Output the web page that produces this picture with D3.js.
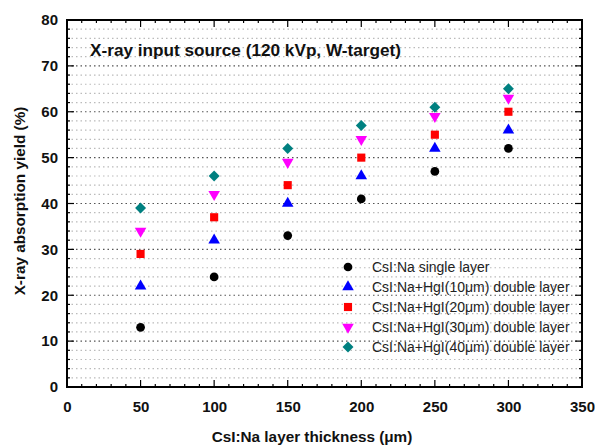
<!DOCTYPE html>
<head>
  <style>
    body { margin: 0; background: #fff; }
    text { font-family: "Liberation Sans", Arial, sans-serif; }
  </style>
  <title>X-ray absorption yield</title>
</head>
<body>
  <script src="https://cdn.jsdelivr.net/npm/d3@7"></script>
  <script>
    // data
    var thickness = [50, 100, 150, 200, 250, 300];
    var single = [13, 24, 33, 41, 47, 52];
    var hgi10 = [22, 32, 40, 46, 52, 56];
    var hgi20 = [29, 37, 44, 50, 55, 60];
    var hgi30 = [34, 42, 49, 54, 59, 63];
    var hgi40 = [39, 46, 52, 57, 61, 65];
    var seriesNames = ["CsI:Na single layer", "CsI:Na+HgI(10\u03bcm) double layer",
      "CsI:Na+HgI(20\u03bcm) double layer", "CsI:Na+HgI(30\u03bcm) double layer",
      "CsI:Na+HgI(40\u03bcm) double layer"];
    var xTicks = [0, 50, 100, 150, 200, 250, 300, 350];
    var yTicks = [0, 10, 20, 30, 40, 50, 60, 70, 80];

    var series = [
      {name: seriesNames[0], values: single, color: "#000000", shape: d3.symbolCircle, size: 60, rot: 0},
      {name: seriesNames[1], values: hgi10, color: "#0000ff", shape: d3.symbolTriangle, size: 58, rot: 0},
      {name: seriesNames[2], values: hgi20, color: "#ff0000", shape: d3.symbolSquare, size: 66, rot: 0},
      {name: seriesNames[3], values: hgi30, color: "#ff00ff", shape: d3.symbolTriangle, size: 58, rot: 180},
      {name: seriesNames[4], values: hgi40, color: "#008080", shape: d3.symbolSquare, size: 60, rot: 45}
    ];

    var margin = {top: 20, right: 13, bottom: 60, left: 67};
    var width = 595 - margin.left - margin.right;
    var height = 447 - margin.top - margin.bottom;

    var x = d3.scaleLinear().domain([0, 350]).range([0, width]);
    var y = d3.scaleLinear().domain([0, 80]).range([height, 0]);

    var svg = d3.select("body").append("svg")
      .attr("width", 595)
      .attr("height", 447)
      .append("g")
      .attr("transform", "translate(" + margin.left + "," + margin.top + ")");

    // horizontal dotted grid every 2 units, darker at every 10
    svg.append("g").selectAll("line")
      .data(d3.range(2, 80, 2))
      .enter().append("line")
      .attr("x1", 0).attr("x2", width)
      .attr("y1", function(d) { return y(d); })
      .attr("y2", function(d) { return y(d); })
      .attr("stroke", function(d) { return d % 10 === 0 ? "#555" : "#bbb"; })
      .attr("stroke-width", 1.2)
      .attr("stroke-dasharray", "1.5,3");

    // minor ticks (inward) on all four sides
    var minorX = d3.range(0, 351, 10);
    var minorY = d3.range(0, 81, 2);
    var ticks = svg.append("g").attr("stroke", "#000").attr("stroke-width", 1.2);
    minorX.forEach(function(v) {
      var len = v % 50 === 0 ? 7 : 3;
      ticks.append("line").attr("x1", x(v)).attr("x2", x(v)).attr("y1", height).attr("y2", height - len);
      ticks.append("line").attr("x1", x(v)).attr("x2", x(v)).attr("y1", 0).attr("y2", len);
    });
    minorY.forEach(function(v) {
      var len = v % 10 === 0 ? 7 : 3;
      ticks.append("line").attr("y1", y(v)).attr("y2", y(v)).attr("x1", 0).attr("x2", len);
      ticks.append("line").attr("y1", y(v)).attr("y2", y(v)).attr("x1", width).attr("x2", width - len);
    });

    // axes (labels only, ticks drawn above)
    var xAxis = svg.append("g")
      .attr("transform", "translate(0," + height + ")")
      .call(d3.axisBottom(x).tickValues(xTicks).tickSize(0).tickPadding(14));
    var yAxis = svg.append("g")
      .call(d3.axisLeft(y).tickValues(yTicks).tickSize(0).tickPadding(9));
    [xAxis, yAxis].forEach(function(a) {
      a.select(".domain").remove();
      a.selectAll("text")
        .style("font-family", "'Liberation Sans', Arial, sans-serif")
        .style("font-size", "15px")
        .style("font-weight", "bold")
        .attr("fill", "#111");
    });

    // frame
    svg.append("rect")
      .attr("width", width).attr("height", height)
      .attr("fill", "none").attr("stroke", "#000").attr("stroke-width", 2);

    // markers
    series.forEach(function(s) {
      svg.append("g").selectAll("path")
        .data(s.values)
        .enter().append("path")
        .attr("d", d3.symbol().type(s.shape).size(s.size))
        .attr("fill", s.color)
        .attr("transform", function(d, i) {
          return "translate(" + x(thickness[i]) + "," + y(d) + ") rotate(" + s.rot + ")";
        });
    });

    // legend
    var legend = svg.append("g").attr("transform", "translate(" + (348 - margin.left) + "," + (267 - margin.top) + ")");
    series.forEach(function(s, i) {
      var row = legend.append("g").attr("transform", "translate(0," + (i * 20) + ")");
      row.append("path")
        .attr("d", d3.symbol().type(s.shape).size(s.size))
        .attr("fill", s.color)
        .attr("transform", "rotate(" + s.rot + ")");
      row.append("text")
        .attr("x", 24).attr("y", 5)
        .style("font-size", "14px")
        .attr("fill", "#222")
        .text(s.name);
    });

    // title inside plot
    svg.append("text")
      .attr("x", 90 - margin.left)
      .attr("y", 56 - margin.top)
      .style("font-size", "17.2px")
      .style("font-weight", "bold")
      .attr("fill", "#111")
      .text("X-ray input source (120 kVp, W-target)");

    // axis labels
    svg.append("text")
      .attr("x", 312 - margin.left)
      .attr("y", 442 - margin.top)
      .style("text-anchor", "middle")
      .style("font-size", "15.3px")
      .style("font-weight", "bold")
      .attr("fill", "#111")
      .text("CsI:Na layer thickness (\u03bcm)");

    svg.append("text")
      .attr("transform", "rotate(-90)")
      .attr("x", -(201 - margin.top))
      .attr("y", 25 - margin.left)
      .style("text-anchor", "middle")
      .style("font-size", "15.3px")
      .style("font-weight", "bold")
      .attr("fill", "#111")
      .text("X-ray absorption yield (%)");
  </script>
</body>
